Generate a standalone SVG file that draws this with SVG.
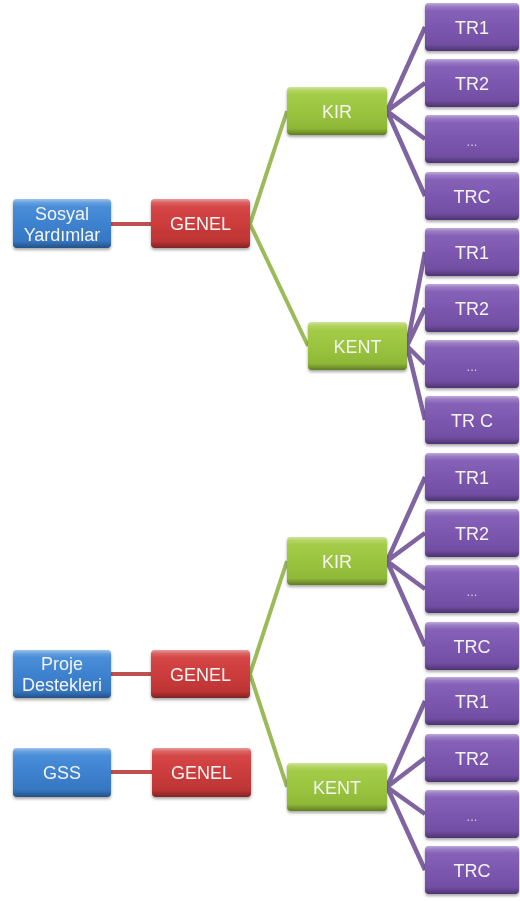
<svg xmlns="http://www.w3.org/2000/svg" width="520" height="901" viewBox="0 0 520 901">
<defs>
<linearGradient id="gBlue" x1="0" y1="0" x2="0" y2="1"><stop offset="0" stop-color="#4f93dc"/><stop offset="0.5" stop-color="#3d82cf"/><stop offset="1" stop-color="#3372bd"/></linearGradient>
<linearGradient id="gRed" x1="0" y1="0" x2="0" y2="1"><stop offset="0" stop-color="#d94b4b"/><stop offset="0.5" stop-color="#cc3c3c"/><stop offset="1" stop-color="#b83232"/></linearGradient>
<linearGradient id="gGreen" x1="0" y1="0" x2="0" y2="1"><stop offset="0" stop-color="#a8d04c"/><stop offset="0.5" stop-color="#9bc43f"/><stop offset="1" stop-color="#8ab335"/></linearGradient>
<linearGradient id="gPurple" x1="0" y1="0" x2="0" y2="1"><stop offset="0" stop-color="#8a66bc"/><stop offset="0.5" stop-color="#7c57af"/><stop offset="1" stop-color="#6e4b9f"/></linearGradient>
<linearGradient id="gHi" x1="0" y1="0" x2="0" y2="1"><stop offset="0" stop-color="#fff" stop-opacity="0.45"/><stop offset="0.07" stop-color="#fff" stop-opacity="0.15"/><stop offset="0.16" stop-color="#fff" stop-opacity="0"/><stop offset="0.86" stop-color="#000" stop-opacity="0"/><stop offset="1" stop-color="#000" stop-opacity="0.3"/></linearGradient>
<filter id="sh" x="-10%" y="-10%" width="120%" height="140%"><feGaussianBlur in="SourceAlpha" stdDeviation="1.5"/><feOffset dy="2" result="b"/><feComponentTransfer><feFuncA type="linear" slope="0.35"/></feComponentTransfer><feMerge><feMergeNode/><feMergeNode in="SourceGraphic"/></feMerge></filter>
</defs>
<style>
.box{filter:url(#sh)}
.hi{fill:url(#gHi)}
.blue{fill:url(#gBlue)}
.red{fill:url(#gRed)}
.green{fill:url(#gGreen)}
.purple{fill:url(#gPurple)}
text{font-family:"Liberation Sans",Arial,sans-serif;font-size:18px;fill:#f4f4f4;text-anchor:middle}
.cr{stroke:#c0504d;stroke-width:4;fill:none}
.cg{stroke:#9bbb59;stroke-width:4;fill:none}
.cp{stroke:#8064a2;stroke-width:4.5;fill:none}
</style>
<g id="connectors">
<line class="cr" x1="111" y1="224" x2="151" y2="224"/>
<line class="cr" x1="111" y1="674" x2="151" y2="674"/>
<line class="cr" x1="111" y1="772" x2="152" y2="772"/>
<polyline class="cg" points="287,111 250,224 308,346"/>
<polyline class="cg" points="287,561 250,674 287,787"/>
<path class="cp" d="M425,27 L387,111 L425,83 M387,111 L425,139 M387,111 L425,196"/>
<path class="cp" d="M425,252 L407,346 L425,308 M407,346 L425,364 M407,346 L425,420"/>
<path class="cp" d="M425,477 L387,561 L425,533 M387,561 L425,589 M387,561 L425,646"/>
<path class="cp" d="M425,701 L387,787 L425,758 M387,787 L425,814 M387,787 L425,870"/>
</g>
<g id="n-sosyal" class="box"><rect class="blue" x="13" y="199" width="98" height="49" rx="4"/><rect class="hi" x="13" y="199" width="98" height="49" rx="4"/><text x="62" y="220">Sosyal</text><text x="62" y="241">Yardımlar</text></g>
<g id="n-genel1" class="box"><rect class="red" x="151" y="199" width="99" height="49" rx="4"/><rect class="hi" x="151" y="199" width="99" height="49" rx="4"/><text x="200.5" y="230">GENEL</text></g>
<g id="n-kir1" class="box"><rect class="green" x="287" y="87" width="100" height="48" rx="4"/><rect class="hi" x="287" y="87" width="100" height="48" rx="4"/><text x="337" y="117.5">KIR</text></g>
<g id="n-kent1" class="box"><rect class="green" x="308" y="322" width="99" height="48" rx="4"/><rect class="hi" x="308" y="322" width="99" height="48" rx="4"/><text x="357.5" y="352.5">KENT</text></g>
<g id="n-proje" class="box"><rect class="blue" x="13" y="650" width="98" height="48" rx="4"/><rect class="hi" x="13" y="650" width="98" height="48" rx="4"/><text x="62" y="670">Proje</text><text x="62" y="691">Destekleri</text></g>
<g id="n-genel2" class="box"><rect class="red" x="151" y="650" width="99" height="48" rx="4"/><rect class="hi" x="151" y="650" width="99" height="48" rx="4"/><text x="200.5" y="680.5">GENEL</text></g>
<g id="n-gss" class="box"><rect class="blue" x="13" y="748" width="98" height="49" rx="4"/><rect class="hi" x="13" y="748" width="98" height="49" rx="4"/><text x="62" y="779">GSS</text></g>
<g id="n-genel3" class="box"><rect class="red" x="152" y="748" width="99" height="49" rx="4"/><rect class="hi" x="152" y="748" width="99" height="49" rx="4"/><text x="201.5" y="779">GENEL</text></g>
<g id="n-kir2" class="box"><rect class="green" x="287" y="537" width="100" height="48" rx="4"/><rect class="hi" x="287" y="537" width="100" height="48" rx="4"/><text x="337" y="567.5">KIR</text></g>
<g id="n-kent2" class="box"><rect class="green" x="287" y="763" width="100" height="48" rx="4"/><rect class="hi" x="287" y="763" width="100" height="48" rx="4"/><text x="337" y="793.5">KENT</text></g>
<g id="n-p1" class="box"><rect class="purple" x="425" y="3" width="94" height="48" rx="4"/><rect class="hi" x="425" y="3" width="94" height="48" rx="4"/><text x="472" y="33.5">TR1</text></g>
<g id="n-p2" class="box"><rect class="purple" x="425" y="59" width="94" height="48" rx="4"/><rect class="hi" x="425" y="59" width="94" height="48" rx="4"/><text x="472" y="89.5">TR2</text></g>
<g id="n-p3" class="box"><rect class="purple" x="425" y="115" width="94" height="48" rx="4"/><rect class="hi" x="425" y="115" width="94" height="48" rx="4"/><text x="472" y="145.5" style="font-size:13px;fill:#d8ccea">...</text></g>
<g id="n-p4" class="box"><rect class="purple" x="425" y="172" width="94" height="48" rx="4"/><rect class="hi" x="425" y="172" width="94" height="48" rx="4"/><text x="472" y="202.5">TRC</text></g>
<g id="n-p5" class="box"><rect class="purple" x="425" y="228" width="94" height="48" rx="4"/><rect class="hi" x="425" y="228" width="94" height="48" rx="4"/><text x="472" y="258.5">TR1</text></g>
<g id="n-p6" class="box"><rect class="purple" x="425" y="284" width="94" height="48" rx="4"/><rect class="hi" x="425" y="284" width="94" height="48" rx="4"/><text x="472" y="314.5">TR2</text></g>
<g id="n-p7" class="box"><rect class="purple" x="425" y="340" width="94" height="48" rx="4"/><rect class="hi" x="425" y="340" width="94" height="48" rx="4"/><text x="472" y="370.5" style="font-size:13px;fill:#d8ccea">...</text></g>
<g id="n-p8" class="box"><rect class="purple" x="425" y="396" width="94" height="48" rx="4"/><rect class="hi" x="425" y="396" width="94" height="48" rx="4"/><text x="472" y="426.5">TR C</text></g>
<g id="n-p9" class="box"><rect class="purple" x="425" y="453" width="94" height="48" rx="4"/><rect class="hi" x="425" y="453" width="94" height="48" rx="4"/><text x="472" y="483.5">TR1</text></g>
<g id="n-p10" class="box"><rect class="purple" x="425" y="509" width="94" height="48" rx="4"/><rect class="hi" x="425" y="509" width="94" height="48" rx="4"/><text x="472" y="539.5">TR2</text></g>
<g id="n-p11" class="box"><rect class="purple" x="425" y="565" width="94" height="48" rx="4"/><rect class="hi" x="425" y="565" width="94" height="48" rx="4"/><text x="472" y="595.5" style="font-size:13px;fill:#d8ccea">...</text></g>
<g id="n-p12" class="box"><rect class="purple" x="425" y="622" width="94" height="48" rx="4"/><rect class="hi" x="425" y="622" width="94" height="48" rx="4"/><text x="472" y="652.5">TRC</text></g>
<g id="n-p13" class="box"><rect class="purple" x="425" y="677" width="94" height="48" rx="4"/><rect class="hi" x="425" y="677" width="94" height="48" rx="4"/><text x="472" y="707.5">TR1</text></g>
<g id="n-p14" class="box"><rect class="purple" x="425" y="734" width="94" height="48" rx="4"/><rect class="hi" x="425" y="734" width="94" height="48" rx="4"/><text x="472" y="764.5">TR2</text></g>
<g id="n-p15" class="box"><rect class="purple" x="425" y="790" width="94" height="48" rx="4"/><rect class="hi" x="425" y="790" width="94" height="48" rx="4"/><text x="472" y="820.5" style="font-size:13px;fill:#d8ccea">...</text></g>
<g id="n-p16" class="box"><rect class="purple" x="425" y="846" width="94" height="48" rx="4"/><rect class="hi" x="425" y="846" width="94" height="48" rx="4"/><text x="472" y="876.5">TRC</text></g>
</svg>
